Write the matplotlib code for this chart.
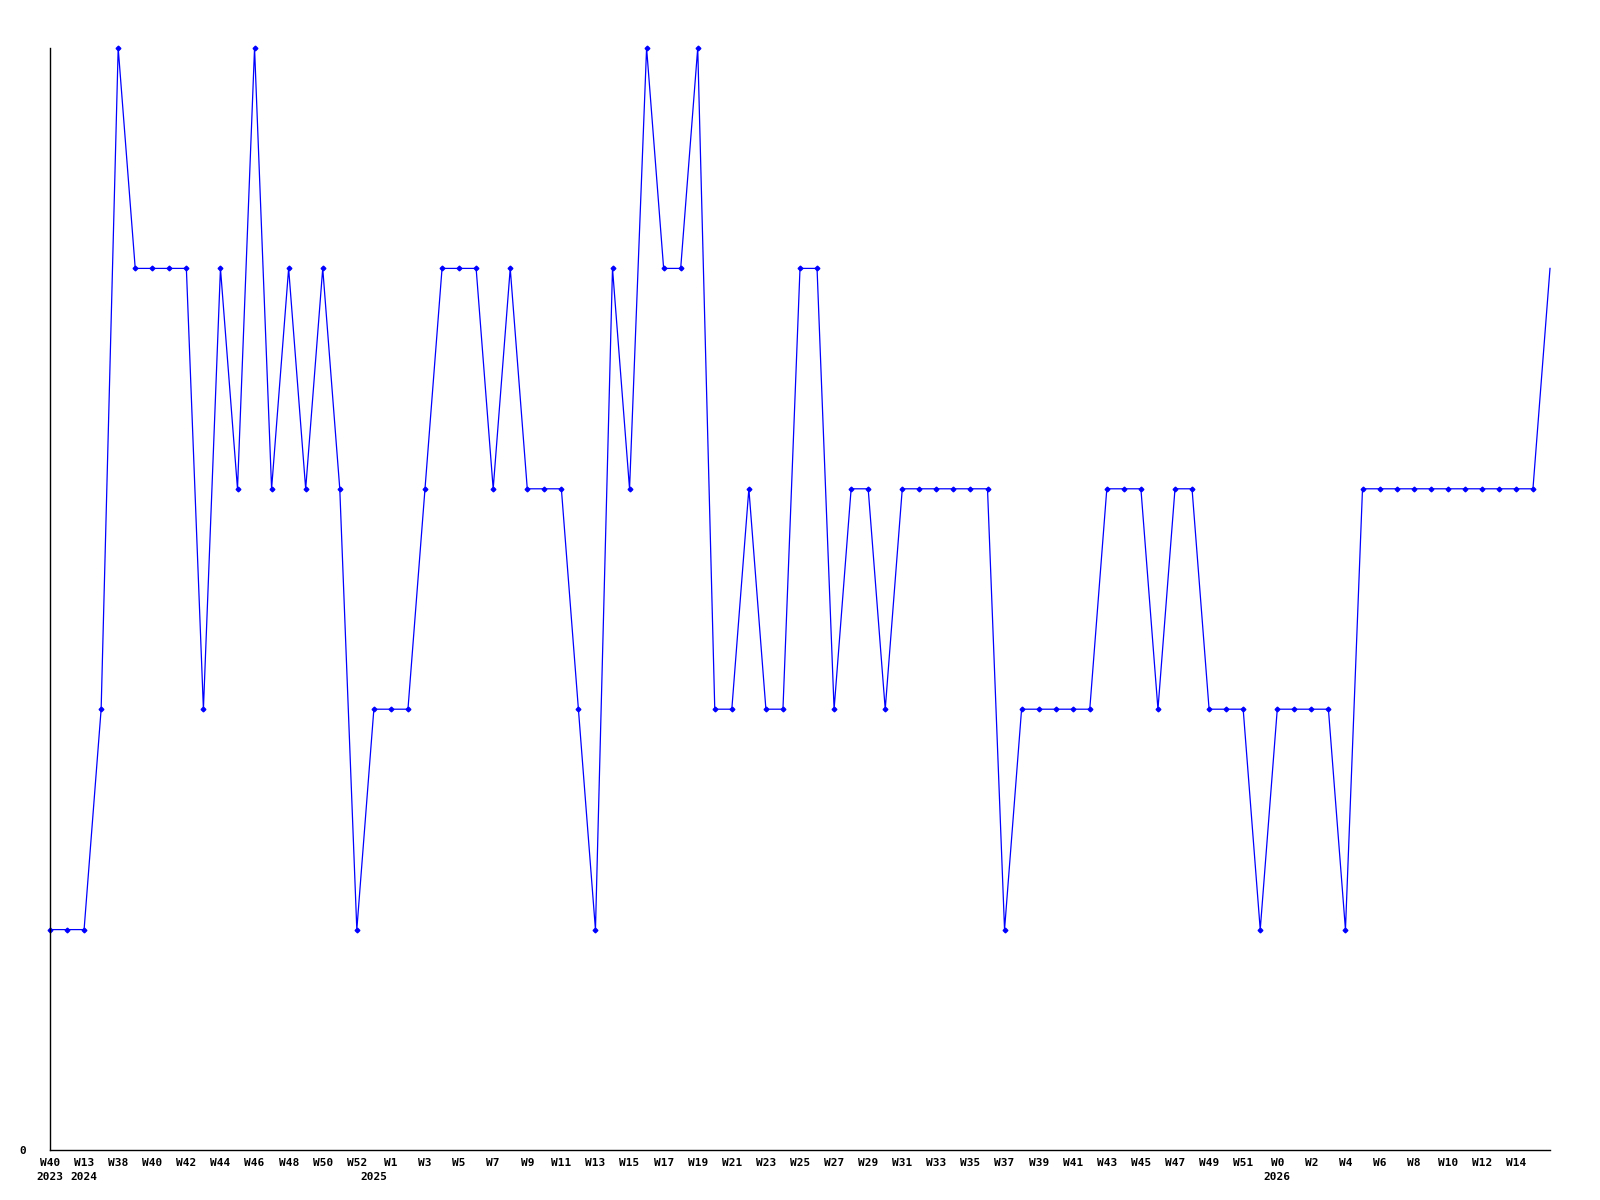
import numpy as np
import matplotlib
matplotlib.use('Agg')
import matplotlib.pyplot as plt

# weekly values, one per point (index 0 = W40 2023)
values = [1, 1, 1, 2, 5, 4, 4, 4, 4, 2,
          4, 3, 5, 3, 4, 3, 4, 3, 1, 2,
          2, 2, 3, 4, 4, 4, 3, 4, 3, 3,
          3, 2, 1, 4, 3, 5, 4, 4, 5, 2,
          2, 3, 2, 2, 4, 4, 2, 3, 3, 2,
          3, 3, 3, 3, 3, 3, 1, 2, 2, 2,
          2, 2, 3, 3, 3, 2, 3, 3, 2, 2,
          2, 1, 2, 2, 2, 2, 1, 3, 3, 3,
          3, 3, 3, 3, 3, 3, 3, 3, 4]

week_labels = ['W40', 'W13', 'W38', 'W40', 'W42', 'W44', 'W46', 'W48', 'W50', 'W52',
               'W1', 'W3', 'W5', 'W7', 'W9', 'W11', 'W13', 'W15', 'W17', 'W19',
               'W21', 'W23', 'W25', 'W27', 'W29', 'W31', 'W33', 'W35', 'W37', 'W39',
               'W41', 'W43', 'W45', 'W47', 'W49', 'W51', 'W0', 'W2', 'W4', 'W6',
               'W8', 'W10', 'W12', 'W14']

year_labels = ['2023', '2024', '2025', '2026']
year_pos = [0, 2, 19, 72]

x = np.arange(len(values))

fig = plt.figure(figsize=(16, 12), dpi=100)
ax = fig.add_axes([50 / 1600, 50 / 1200, 1500 / 1600, 1102 / 1200])

# last point sits on the right edge, no marker there
ax.plot(x, values, color='#0000ff', linewidth=0.9, marker='D', markersize=2.4,
        markevery=list(range(len(values) - 1)), clip_on=False)

ax.set_xlim(0, len(values) - 1)
ax.set_ylim(0, 5)

for s in ['top', 'right']:
    ax.spines[s].set_visible(False)
for s in ['left', 'bottom']:
    ax.spines[s].set_color('black')
    ax.spines[s].set_linewidth(1)

font = dict(family='DejaVu Sans Mono', weight='bold', size=8)

ax.set_xticks(np.arange(0, 2 * len(week_labels), 2))
ax.set_xticklabels(week_labels, **font)
ax.tick_params(axis='x', length=0, pad=6)

ax.set_yticks([0])
ax.set_yticklabels(['0'], **font)
ax.tick_params(axis='y', length=0, pad=17)

# year labels under the week labels
for lab, p in zip(year_labels, year_pos):
    ax.annotate(lab, xy=(p, 0), xycoords=('data', 'axes fraction'),
                xytext=(0, -16), textcoords='offset points',
                ha='center', va='top', **font)

fig.savefig('out.png', dpi=100)
